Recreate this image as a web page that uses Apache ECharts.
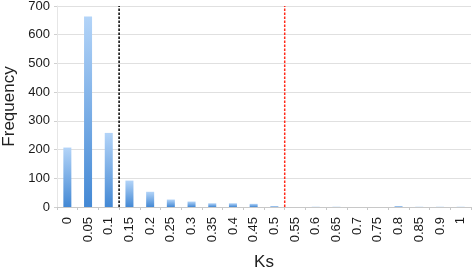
<!DOCTYPE html>
<html>
<head>
<meta charset="utf-8">
<script src="https://cdn.jsdelivr.net/npm/echarts@6/dist/echarts.min.js"></script>
<style>html,body{margin:0;padding:0;background:#fff}#c{width:472px;height:271px}</style>
</head>
<body>
<div id="c"></div>
<script>
const categories = ['0','0.05','0.1','0.15','0.2','0.25','0.3','0.35','0.4','0.45','0.5','0.55','0.6','0.65','0.7','0.75','0.8','0.85','0.9','1'];
const frequency = [207, 663, 258, 92, 53, 26, 19, 13, 13, 11, 3, 0, 1, 1, 0, 0, 3, 1, 1, 1];
const yTicks = [0, 100, 200, 300, 400, 500, 600, 700];
// threshold lines, expressed as category-boundary positions (index units)
const blackThreshold = 3;
const redThreshold = 11;

const font = 'Arial, "Liberation Sans", Helvetica, sans-serif';
const chart = echarts.init(document.getElementById('c'), null, {renderer: 'canvas'});
chart.setOption({
  animation: false,
  grid: {left: 57, right: 1, top: 6, bottom: 64, containLabel: false, outerBoundsMode: 'none'},
  xAxis: [{
    type: 'category',
    data: categories,
    name: 'Ks',
    nameLocation: 'middle',
    nameGap: 47,
    nameTextStyle: {fontFamily: font, fontSize: 17, color: '#222'},
    axisLine: {lineStyle: {color: '#c8c8c8'}},
    axisTick: {show: true, length: 3, lineStyle: {color: '#c8c8c8'}},
    axisLabel: {rotate: 90, fontFamily: font, fontSize: 13, color: '#1a1a1a', margin: 10, interval: 0}
  }, {
    type: 'value', min: 0, max: categories.length, show: false
  }],
  yAxis: {
    type: 'value',
    min: yTicks[0], max: yTicks[yTicks.length - 1], interval: 100,
    name: 'Frequency',
    nameLocation: 'middle',
    nameGap: 36,
    nameTextStyle: {fontFamily: font, fontSize: 17, color: '#222'},
    axisLine: {show: true, lineStyle: {color: '#e6e6e6'}},
    axisTick: {show: true, length: 3, lineStyle: {color: '#d0d0d0'}},
    axisLabel: {fontFamily: font, fontSize: 13, color: '#1a1a1a', margin: 7},
    splitLine: {lineStyle: {color: '#e0e0e0'}}
  },
  series: [{
    type: 'bar',
    data: frequency,
    barWidth: 8,
    itemStyle: {
      color: new echarts.graphic.LinearGradient(0, 0, 0, 1, [
        {offset: 0, color: '#b3d4f8'},
        {offset: 1, color: '#4388d4'}
      ])
    }
  }, {
    type: 'line',
    xAxisIndex: 1,
    data: [[blackThreshold, 0], [blackThreshold, 700]],
    symbol: 'none',
    lineStyle: {color: '#000', type: [2.5, 1.5], width: 1.5},
    z: 5
  }, {
    type: 'line',
    xAxisIndex: 1,
    data: [[redThreshold, 0], [redThreshold, 700]],
    symbol: 'none',
    lineStyle: {color: '#ff2a1a', type: [2.5, 1.5], width: 1.5},
    z: 5
  }]
});
</script>
</body>
</html>
